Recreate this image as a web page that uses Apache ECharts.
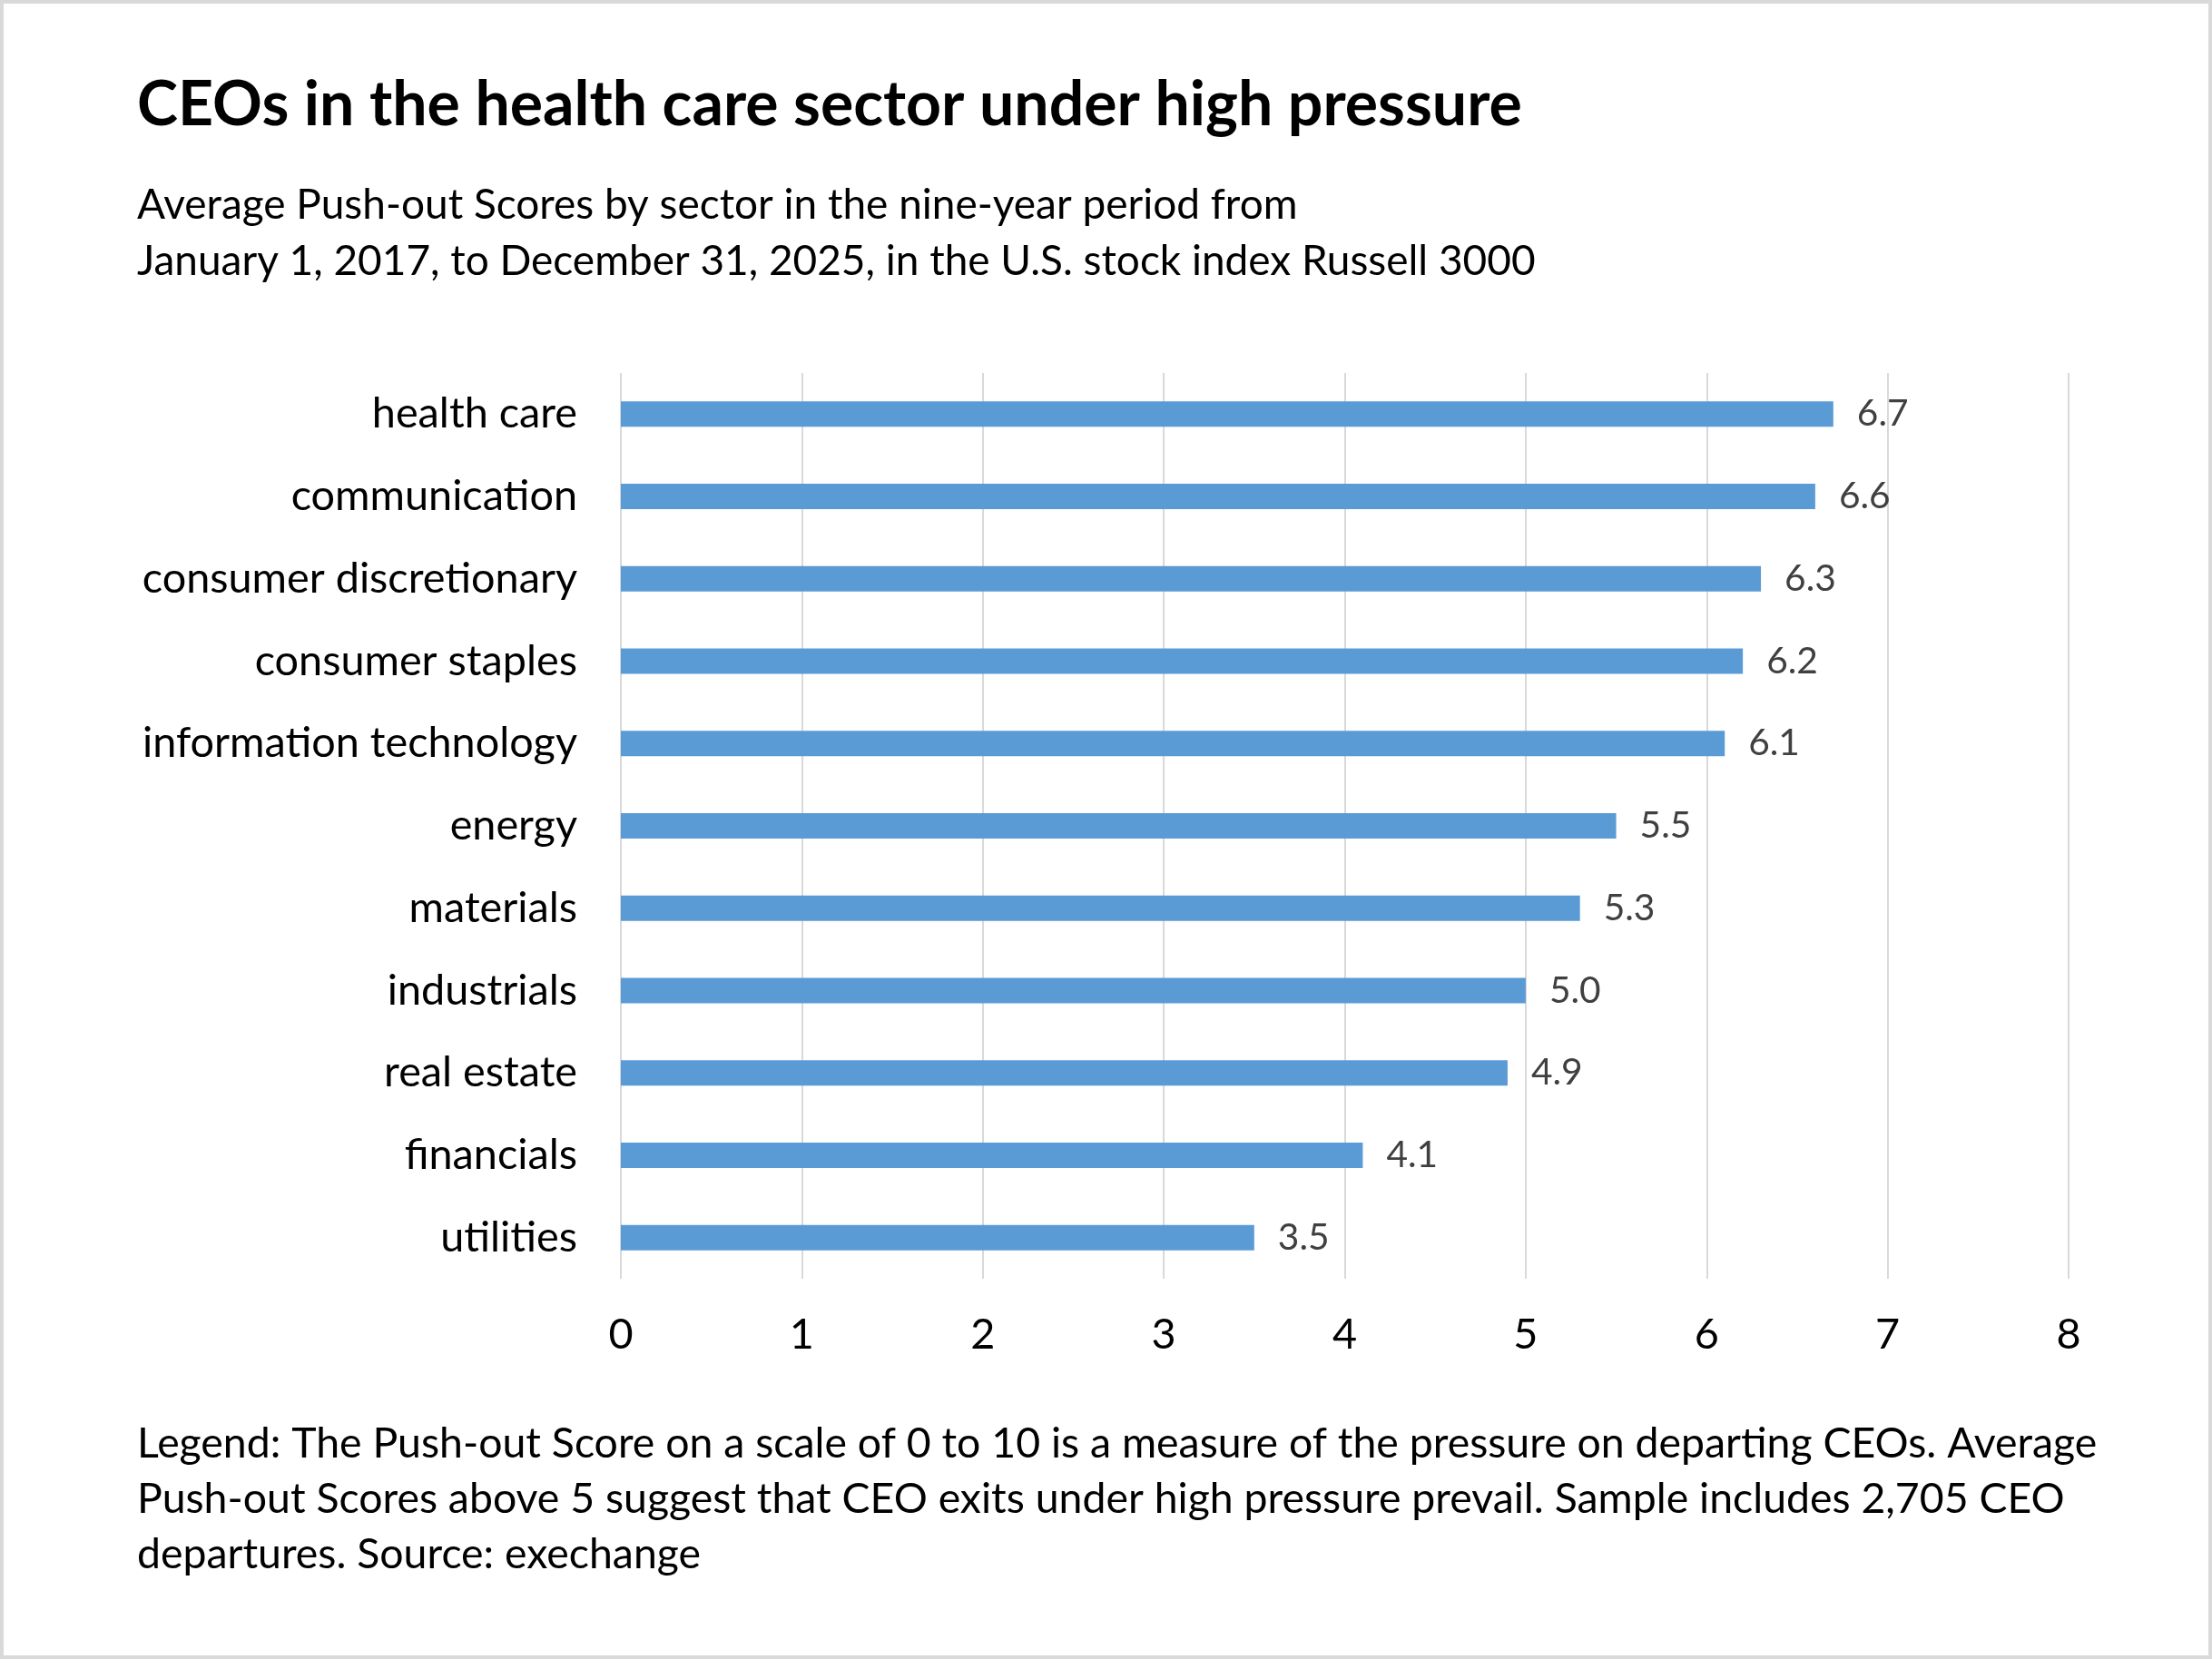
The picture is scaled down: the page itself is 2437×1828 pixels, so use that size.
<!DOCTYPE html>
<html>
<head>
<meta charset="utf-8">
<script src="https://cdn.jsdelivr.net/npm/echarts@6/dist/echarts.min.js"></script>
<style>
html,body{margin:0;padding:0;background:#fff;}
#chart{width:2437px;height:1828px;}
</style>
</head>
<body>
<div id="chart"></div>
<script>
const titleText = 'CEOs in the health care sector under high pressure';
const subtitleLines = [
  'Average Push-out Scores by sector in the nine-year period from',
  'January 1, 2017, to December 31, 2025, in the U.S. stock index Russell 3000'
];
const footerLines = [
  'Legend: The Push-out Score on a scale of 0 to 10 is a measure of the pressure on departing CEOs. Average',
  'Push-out Scores above 5 suggest that CEO exits under high pressure prevail. Sample includes 2,705 CEO',
  'departures. Source: exechange'
];
const categories = ['health care','communication','consumer discretionary','consumer staples','information technology','energy','materials','industrials','real estate','financials','utilities'];
const scores = [6.7, 6.6, 6.3, 6.2, 6.1, 5.5, 5.3, 5.0, 4.9, 4.1, 3.5];
const xTicks = [0, 1, 2, 3, 4, 5, 6, 7, 8];

const FONT = 'Lato';
const cv = document.createElement('canvas').getContext('2d');
function fit(text, weight, w) {
  cv.font = weight + ' 100px ' + FONT;
  return 100 * w / cv.measureText(text).width;
}
const titleSize = fit(titleText, 'bold', 1526);
const subSize = fit(subtitleLines[1], 'normal', 1541);
const footSize = fit(footerLines[0], 'normal', 2160);
const catSize = fit('information technology', 'normal', 479);
const valSize = catSize * 0.87;

function textEl(str, x, baseline, size, weight, color) {
  return {
    type: 'text', left: x, top: baseline - size * 0.74,
    style: { text: str, font: weight + ' ' + size + 'px ' + FONT, fill: color || '#000' }
  };
}

const graphics = [
  { type: 'rect', shape: { x: 2, y: 2, width: 2433, height: 1824 }, style: { fill: 'none', stroke: '#d9d9d9', lineWidth: 4 }, silent: true },
  textEl(titleText, 151, 132, titleSize, 'bold'),
  textEl(subtitleLines[0], 151, 237, subSize, 'normal'),
  textEl(subtitleLines[1], 151, 299, subSize, 'normal')
];
footerLines.forEach((l, i) => graphics.push(textEl(l, 151, 1602 + i * 61, footSize, 'normal')));

const chart = echarts.init(document.getElementById('chart'), null, { renderer: 'canvas' });
chart.setOption({
  backgroundColor: '#fff',
  animation: false,
  graphic: graphics,
  grid: { left: 684, right: 158, top: 411, bottom: 419, containLabel: false },
  xAxis: {
    type: 'value', min: xTicks[0], max: xTicks[xTicks.length - 1], interval: 1,
    axisLine: { show: false }, axisTick: { show: false },
    splitLine: { show: true, lineStyle: { color: '#d9d9d9', width: 2 } },
    axisLabel: { color: '#000', fontFamily: FONT, fontSize: catSize, margin: 66 - catSize * 0.6 }
  },
  yAxis: {
    type: 'category', data: categories, inverse: true,
    axisLine: { show: false }, axisTick: { show: false },
    axisLabel: { color: '#000', fontFamily: FONT, fontSize: catSize, margin: 48 }
  },
  series: [{
    type: 'bar', data: scores, barWidth: 28,
    itemStyle: { color: '#5B9BD5' },
    label: {
      show: true, position: 'right', distance: 26, color: '#404040',
      fontFamily: FONT, fontSize: valSize,
      formatter: p => p.value.toFixed(1)
    }
  }]
});
</script>
</body>
</html>
